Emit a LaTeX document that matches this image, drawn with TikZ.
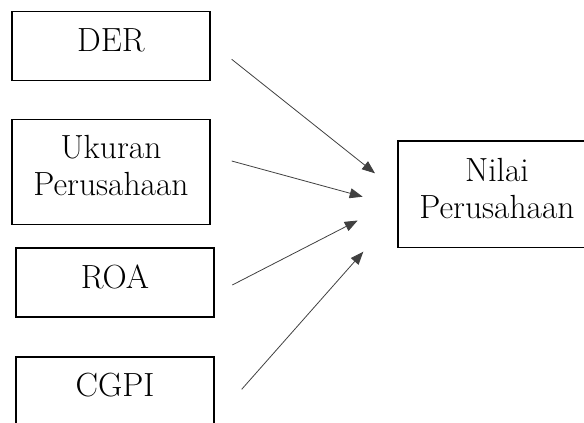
\documentclass[tikz,border=0pt]{standalone}
\usepackage{tikz}
\usetikzlibrary{arrows.meta}

\tikzset{
  varbox/.style={draw=black, line width=1.3pt, minimum width=198pt, inner sep=0pt},
  vartext/.style={draw=none, align=center, font=\fontsize{33.5}{37}\selectfont},
  panah/.style={draw=black!75, line width=0.8pt, -{Triangle[length=13pt,width=10pt]}}
}

\begin{document}
\begin{tikzpicture}[x=1pt,y=-1pt]

\clip (0,0) rectangle (584,423);

% variable boxes
\node [varbox, minimum height=69pt] (der) at (111,46) {};
\node [vartext] (dertext) at ([yshift=6pt]der.center) {DER};

\node [varbox, minimum height=105pt] (ukuran) at (111,171.7) {};
\node [vartext] (ukurantext) at ([yshift=6pt]ukuran.center) {Ukuran\\Perusahaan};

\node [varbox, minimum height=69pt] (roa) at (115,282.5) {};
\node [vartext] (roatext) at ([yshift=6pt]roa.center) {ROA};

\node [varbox, minimum height=69pt] (cgpi) at (115,391.5) {};
\node [vartext] (cgpitext) at ([yshift=6pt]cgpi.center) {CGPI};

\node [varbox, minimum height=106.7pt] (nilai) at (497,194.4) {};
\node [vartext] (nilaitext) at ([yshift=6pt]nilai.center) {Nilai\\Perusahaan};

% arrow ends
\coordinate (derA) at (231.7,59.3);
\coordinate (derB) at (375,173.3);
\coordinate (ukuranA) at (231.7,161);
\coordinate (ukuranB) at (362.7,196.7);
\coordinate (roaA) at (232.3,285);
\coordinate (roaB) at (357.7,220.5);
\coordinate (cgpiA) at (241.7,389.3);
\coordinate (cgpiB) at (363.3,251.7);

\draw [panah] (derA) -- (derB);
\draw [panah] (ukuranA) -- (ukuranB);
\draw [panah] (roaA) -- (roaB);
\draw [panah] (cgpiA) -- (cgpiB);

\end{tikzpicture}
\end{document}
